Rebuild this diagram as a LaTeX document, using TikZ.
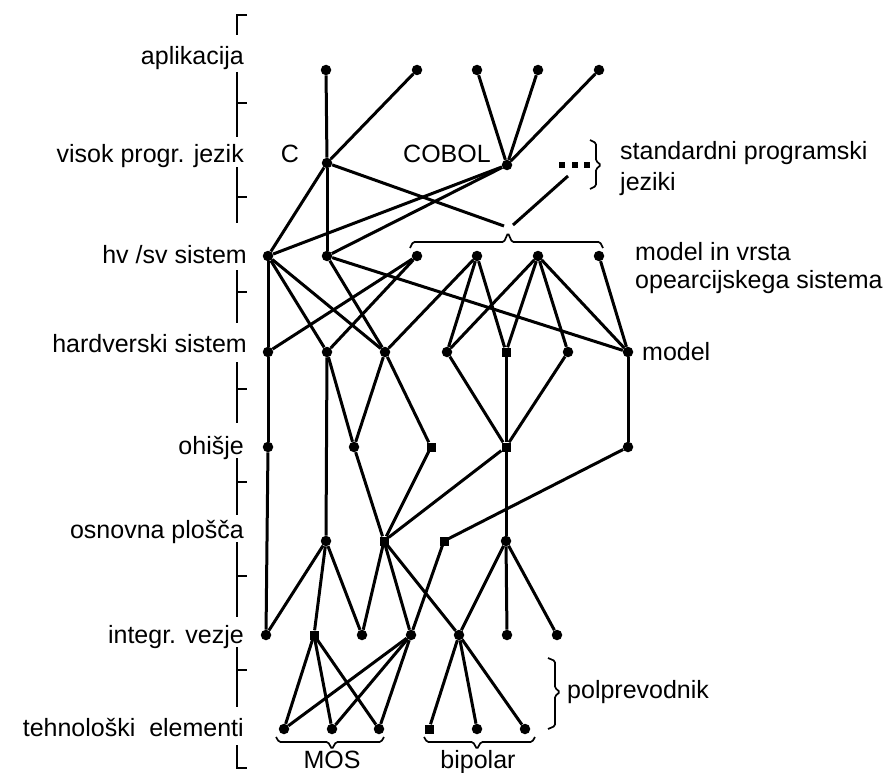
\documentclass[tikz,border=0pt]{standalone}
\usepackage{fontspec}
\setmainfont{Liberation Sans}
\begin{document}
\begin{tikzpicture}[x=1pt,y=-1pt,
  dot/.style={circle,fill=black,inner sep=0pt,minimum size=10.5pt},
  sq/.style={rectangle,fill=black,inner sep=0pt,minimum size=9pt},
  tiny/.style={rectangle,fill=black,inner sep=0pt,minimum size=5.5pt},
  edge/.style={line width=3pt},
  axis/.style={line width=2pt},
  brace/.style={line width=1.7pt,rounded corners=1.5pt},
  lab/.style={font=\fontsize{25}{30}\selectfont,inner sep=0pt},
]
\useasboundingbox (0,0) rectangle (886,773);

% ---- level axis on the left ----
\draw[axis] (247,15) -- (237,15) -- (237,35);
\draw[axis] (237,72) -- (237,137);  \draw[axis] (237,103) -- (247,103);
\draw[axis] (237,167) -- (237,223); \draw[axis] (237,197) -- (247,197);
\draw[axis] (237,270) -- (237,323); \draw[axis] (237,292) -- (247,292);
\draw[axis] (237,362) -- (237,423); \draw[axis] (237,389) -- (247,389);
\draw[axis] (237,458) -- (237,515); \draw[axis] (237,482) -- (247,482);
\draw[axis] (237,542) -- (237,617); \draw[axis] (237,576) -- (247,576);
\draw[axis] (237,647) -- (237,707); \draw[axis] (237,670) -- (247,670);
\draw[axis] (237,745) -- (237,768) -- (247,768);

% ---- level names ----
\node[lab,anchor=base east] (Lapl) at (244,65)  {aplikacija};
\node[lab,anchor=base east] (Lvpj) at (244,163) {visok progr. jezik};
\node[lab,anchor=base east] (Lhs)  at (247,263) {hv /sv sistem};
\node[lab,anchor=base east] (Lhw)  at (247,352) {hardverski sistem};
\node[lab,anchor=base east] (Loh)  at (244,454) {ohišje};
\node[lab,anchor=base east] (Los)  at (244,538) {osnovna plošča};
\node[lab,anchor=base east] (Liv)  at (244,643) {integr. vezje};
\node[lab,anchor=base east] (Lte)  at (244,736) {tehnološki\ \ elementi};

% ---- aplikacija ----
\node[dot] (a1) at (326,70) {};
\node[dot] (a2) at (417,70) {};
\node[dot] (a3) at (477,70) {};
\node[dot] (a4) at (538,70) {};
\node[dot] (a5) at (599,70) {};

% ---- programming languages ----
\node[dot] (C) at (327,163) {};
\node[dot] (COBOL) at (507,165) {};
\node[lab,anchor=base] (tC) at (290,163) {C};
\node[lab,anchor=base] (tCOBOL) at (447,163) {COBOL};
\node[tiny] (d1) at (562,165) {};
\node[tiny] (d2) at (575,165) {};
\node[tiny] (d3) at (587,165) {};
\coordinate (dl) at (568,176);

% ---- hw/sw system ----
\node[dot] (h1) at (268,256) {};
\node[dot] (h2) at (327,256) {};
\node[dot] (h3) at (417,256) {};
\node[dot] (h4) at (477,256) {};
\node[dot] (h5) at (538,256) {};
\node[dot] (h6) at (599,256) {};

% ---- hardware system ----
\node[dot] (w1) at (268,352) {};
\node[dot] (w2) at (327,352) {};
\node[dot] (w3) at (385,352) {};
\node[dot] (w4) at (447,352) {};
\node[sq]  (w5) at (506,352) {};
\node[dot] (w6) at (568,352) {};
\node[dot] (w7) at (628,352) {};

% ---- housing ----
\node[dot] (o1) at (268,447) {};
\node[dot] (o2) at (354,447) {};
\node[sq]  (o3) at (431,447) {};
\node[sq]  (o4) at (506,447) {};
\node[dot] (o5) at (628,447) {};

% ---- motherboard ----
\node[dot] (p1) at (326,541) {};
\node[sq]  (p2) at (384,541) {};
\node[sq]  (p3) at (444,541) {};
\node[dot] (p4) at (506,541) {};

% ---- integrated circuits ----
\node[dot] (i1) at (266,635) {};
\node[sq]  (i2) at (314,635) {};
\node[dot] (i3) at (362,635) {};
\node[dot] (i4) at (411,635) {};
\node[dot] (i5) at (459,635) {};
\node[dot] (i6) at (507,635) {};
\node[dot] (i7) at (557,635) {};

% ---- technology elements ----
\node[dot] (t1) at (284,729) {};
\node[dot] (t2) at (332,729) {};
\node[dot] (t3) at (379,729) {};
\node[sq]  (t4) at (429,729) {};
\node[dot] (t5) at (477,729) {};
\node[dot] (t6) at (525,729) {};

% ---- connections ----
\draw[edge] (a1) -- (C);  \draw[edge] (a2) -- (C);
\draw[edge] (a3) -- (COBOL); \draw[edge] (a4) -- (COBOL); \draw[edge] (a5) -- (COBOL);

\coordinate (osL) at (504,226);
\coordinate (osR) at (513,225);
\draw[edge] (C) -- (h1); \draw[edge] (C) -- (h2); \draw[edge] (C) -- (osL);
\draw[edge] (COBOL) -- (h1); \draw[edge] (COBOL) -- (h2);
\draw[edge] (osR) -- (dl);

\draw[edge] (h1) -- (w1); \draw[edge] (h1) -- (w2); \draw[edge] (h1) -- (w3);
\draw[edge] (h2) -- (w3); \draw[edge] (h2) -- (w7);
\draw[edge] (h3) -- (w1); \draw[edge] (h3) -- (w2);
\draw[edge] (h4) -- (w3); \draw[edge] (h4) -- (w4); \draw[edge] (h4) -- (w5);
\draw[edge] (h5) -- (w4); \draw[edge] (h5) -- (w5); \draw[edge] (h5) -- (w6); \draw[edge] (h5) -- (w7);
\draw[edge] (h6) -- (w7);

\draw[edge] (w1) -- (o1); \draw[edge] (w2) -- (o2); \draw[edge] (w2) -- (p1);
\draw[edge] (w3) -- (o2); \draw[edge] (w3) -- (o3);
\draw[edge] (w4) -- (o4); \draw[edge] (w5) -- (o4); \draw[edge] (w6) -- (o4);
\draw[edge] (w7) -- (o5);

\draw[edge] (o1) -- (i1); \draw[edge] (o2) -- (p2); \draw[edge] (o3) -- (p2);
\draw[edge] (o4) -- (p2); \draw[edge] (o4) -- (p4); \draw[edge] (o5) -- (p3);

\draw[edge] (p1) -- (i1); \draw[edge] (p1) -- (i2); \draw[edge] (p1) -- (i3);
\draw[edge] (p2) -- (i3); \draw[edge] (p2) -- (i4); \draw[edge] (p2) -- (i5);
\draw[edge] (p3) -- (i4);
\draw[edge] (p4) -- (i5); \draw[edge] (p4) -- (i6); \draw[edge] (p4) -- (i7);

\draw[edge] (i2) -- (t1); \draw[edge] (i2) -- (t2); \draw[edge] (i2) -- (t3);
\draw[edge] (i4) -- (t1); \draw[edge] (i4) -- (t2); \draw[edge] (i4) -- (t3);
\draw[edge] (i5) -- (t4); \draw[edge] (i5) -- (t5); \draw[edge] (i5) -- (t6);

% ---- braces ----
\draw[brace] (410,248) -- (413,242) -- (504,242) -- (508,233) -- (512,242) -- (600,242) -- (603,248);
\draw[brace] (590,140) -- (596,143) -- (596,161) -- (601,165) -- (596,169) -- (596,186) -- (590,189);
\draw[brace] (548,658) -- (555,661) -- (555,688) -- (560,692) -- (555,696) -- (555,726) -- (548,729);
\draw[brace] (276,737) -- (279,742) -- (328,742) -- (332,749) -- (336,742) -- (381,742) -- (384,737);
\draw[brace] (424,737) -- (427,742) -- (473,742) -- (477,749) -- (481,742) -- (532,742) -- (535,737);

% ---- annotations ----
\node[lab,anchor=base west] (tstd) at (620,159) {standardni programski};
\node[lab,anchor=base west] (tjez) at (620,190) {jeziki};
\node[lab,anchor=base west] (tmv)  at (635,260) {model in vrsta};
\node[lab,anchor=base west] (tos)  at (635,288) {opearcijskega sistema};
\node[lab,anchor=base west] (tmod) at (642,360) {model};
\node[lab,anchor=base west] (tpol) at (567,698) {polprevodnik};
\node[lab,anchor=base] (tmos) at (332,768) {MOS};
\node[lab,anchor=base] (tbip) at (478,768) {bipolar};
\end{tikzpicture}
\end{document}
